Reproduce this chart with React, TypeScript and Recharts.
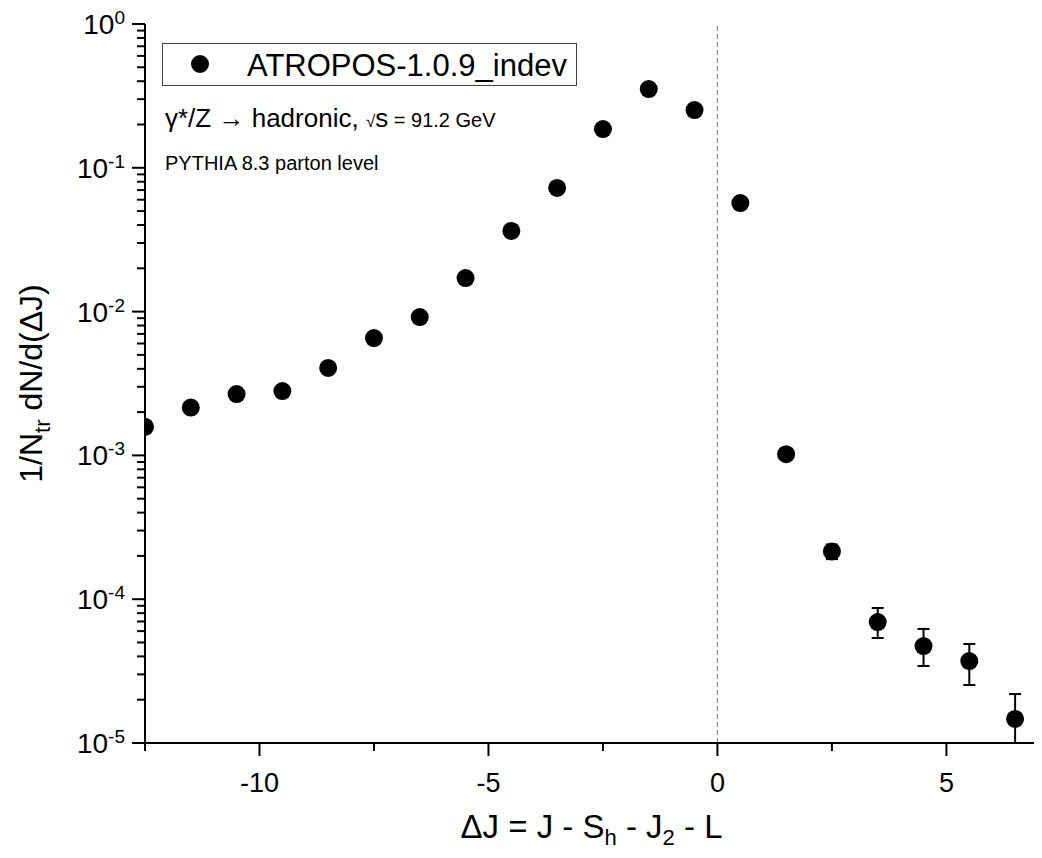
import React from "react";
import {
  ScatterChart,
  Scatter,
  XAxis,
  YAxis,
  ErrorBar,
  ReferenceLine,
  Legend,
} from "recharts";

const deltaJ = [
  -12.5, -11.5, -10.5, -9.5, -8.5, -7.5, -6.5, -5.5, -4.5, -3.5, -2.5, -1.5,
  -0.5, 0.5, 1.5, 2.5, 3.5, 4.5, 5.5, 6.5,
];
const density = [
  1.58e-3, 2.15e-3, 2.67e-3, 2.8e-3, 4.06e-3, 6.55e-3, 9.17e-3, 1.71e-2,
  3.64e-2, 7.24e-2, 0.186, 0.353, 0.252, 0.0569, 1.02e-3, 2.15e-4, 6.94e-5,
  4.72e-5, 3.71e-5, 1.47e-5,
];
// only the tail points have visible error bars
const errLow = [
  null, null, null, null, null, null, null, null, null, null, null, null,
  null, null, null, 2.5e-5, 1.57e-5, 1.29e-5, 1.18e-5, 0.47e-5,
];
const errHigh = [
  null, null, null, null, null, null, null, null, null, null, null, null,
  null, null, null, 2.5e-5, 1.75e-5, 1.49e-5, 1.17e-5, 0.72e-5,
];

const xTicks = [-12.5, -10, -7.5, -5, -2.5, 0, 2.5, 5];
const xMajor = [-10, -5, 0, 5];
const decades = [-5, -4, -3, -2, -1, 0];
const mantissas = [1, 2, 3, 4, 5, 6, 7, 8, 9];
const yTicks = decades.flatMap((d) =>
  d === 0 ? [1] : mantissas.map((m) => m * Math.pow(10, d))
);

const seriesName = "ATROPOS-1.0.9_indev";
const FONT = '"Liberation Sans", Arial, Helvetica, sans-serif';

const points = deltaJ.map((x, i) => ({
  x,
  y: density[i],
  err: errLow[i] == null ? null : [errLow[i], errHigh[i]],
}));

const isDecade = (v: number) =>
  Math.abs(Math.log10(v) - Math.round(Math.log10(v))) < 1e-6;

function LeftTick({ x, y, payload }: any) {
  const major = isDecade(payload.value);
  return (
    <g>
      <line x1={x} x2={x - (major ? 13 : 8)} y1={y} y2={y} stroke="#000" strokeWidth={2} />
      {major && (
        <text x={x - 20} y={y + 10} textAnchor="end" fontSize={28} fill="#000" fontFamily={FONT}>
          10
          <tspan fontSize={19} dy={-10}>
            {Math.round(Math.log10(payload.value))}
          </tspan>
        </text>
      )}
    </g>
  );
}

function RightTick({ x, y, payload }: any) {
  const major = isDecade(payload.value);
  return <line x1={x} x2={x - (major ? 13 : 8)} y1={y} y2={y} stroke="#000" strokeWidth={2} />;
}

function BottomTick({ x, y, payload }: any) {
  const major = xMajor.includes(payload.value);
  return (
    <g>
      <line x1={x} x2={x} y1={y} y2={y + (major ? 13 : 8)} stroke="#000" strokeWidth={2} />
      {major && (
        <text x={x} y={y + 49} textAnchor="middle" fontSize={27} fill="#000" fontFamily={FONT}>
          {payload.value}
        </text>
      )}
    </g>
  );
}

function TopTick({ x, y, payload }: any) {
  const major = xMajor.includes(payload.value);
  return <line x1={x} x2={x} y1={y} y2={y + (major ? 13 : 8)} stroke="#000" strokeWidth={2} />;
}

function XTitle({ viewBox }: any) {
  const cx = viewBox.x + viewBox.width / 2;
  return (
    <text x={cx} y={viewBox.y + 95} textAnchor="middle" fontSize={33} fill="#000" fontFamily={FONT}>
      ΔJ = J - S
      <tspan fontSize={22} dy={7}>h</tspan>
      <tspan dy={-7}> - J</tspan>
      <tspan fontSize={22} dy={7}>2</tspan>
      <tspan dy={-7}> - L</tspan>
    </text>
  );
}

function YTitle({ viewBox }: any) {
  const cy = viewBox.y + viewBox.height / 2;
  const bx = 34;
  return (
    <text
      x={bx}
      y={cy}
      transform={`rotate(-90, ${bx}, ${cy})`}
      textAnchor="middle"
      fontSize={32}
      fill="#000"
      fontFamily={FONT}
    >
      1/N
      <tspan fontSize={22} dy={8}>tr</tspan>
      <tspan dy={-8}> dN/d(ΔJ)</tspan>
    </text>
  );
}

function LegendBox() {
  return (
    <div
      style={{
        width: 415,
        height: 43,
        boxSizing: "border-box",
        border: "1px solid #444",
        background: "#fff",
      }}
    >
      <svg width={413} height={41}>
        <circle cx={37} cy={20} r={9} fill="#000" />
        <text x={84} y={32} fontSize={31} fill="#000" fontFamily={FONT}>
          {seriesName}
        </text>
      </svg>
    </div>
  );
}

const Dot = (p: any) => <circle cx={p.cx} cy={p.cy} r={9} fill="#000" />;

export default function App() {
  return (
    <div style={{ position: "relative", width: 1034, height: 842, fontFamily: FONT }}>
      <ScatterChart width={1034} height={842} margin={{ top: 16, right: 4, bottom: 0, left: 0 }}>
        <XAxis
          dataKey="x"
          type="number"
          domain={[-12.5, 7]}
          ticks={xTicks}
          interval={0}
          allowDataOverflow
          height={107}
          tickSize={0}
          tickMargin={0}
          tickLine={false}
          tick={<BottomTick />}
          axisLine={{ stroke: "#000", strokeWidth: 2 }}
          label={{ content: XTitle }}
        />
        <XAxis
          xAxisId="top"
          orientation="top"
          dataKey="x"
          type="number"
          domain={[-12.5, 7]}
          ticks={xTicks}
          interval={0}
          allowDataOverflow
          height={0}
          tickSize={0}
          tickMargin={0}
          tickLine={false}
          tick={<TopTick />}
          axisLine={{ stroke: "#000", strokeWidth: 2 }}
        />
        <YAxis
          dataKey="y"
          type="number"
          scale="log"
          domain={[1e-5, 1]}
          ticks={yTicks}
          interval={0}
          allowDataOverflow
          width={137}
          tickSize={0}
          tickMargin={0}
          tickLine={false}
          tick={<LeftTick />}
          axisLine={{ stroke: "#000", strokeWidth: 2 }}
          label={{ content: YTitle }}
        />
        <YAxis
          yAxisId="right"
          orientation="right"
          dataKey="y"
          type="number"
          scale="log"
          domain={[1e-5, 1]}
          ticks={yTicks}
          interval={0}
          allowDataOverflow
          width={0}
          tickSize={0}
          tickMargin={0}
          tickLine={false}
          tick={<RightTick />}
          axisLine={{ stroke: "#000", strokeWidth: 2 }}
        />
        <ReferenceLine x={0} stroke="#777" strokeWidth={1} strokeDasharray="5 3" />
        <Scatter
          name={seriesName}
          data={points}
          fill="#000"
          shape={Dot}
          isAnimationActive={false}
        >
          <ErrorBar dataKey="err" direction="y" width={6} stroke="#000" strokeWidth={2} />
        </Scatter>
        <Scatter
          data={points}
          xAxisId="top"
          yAxisId="right"
          shape={() => <g />}
          legendType="none"
          isAnimationActive={false}
        />
        <Legend
          layout="horizontal"
          verticalAlign="middle"
          align="center"
          wrapperStyle={{ top: 35, left: 154, width: 415, height: 43 }}
          content={() => <LegendBox />}
        />
      </ScatterChart>
      <svg
        width={1034}
        height={842}
        style={{ position: "absolute", left: 0, top: 0, pointerEvents: "none" }}
      >
        <text x={157} y={119} fontSize={26} fill="#000" fontFamily={FONT}>
          γ*/Z → hadronic,{" "}
          <tspan fontSize={17}>√</tspan>
          <tspan fontSize={26}>s</tspan>
          <tspan fontSize={20}> = 91.2 GeV</tspan>
        </text>
        <text x={157} y={162} fontSize={20} fill="#000" fontFamily={FONT}>
          PYTHIA 8.3 parton level
        </text>
      </svg>
    </div>
  );
}
